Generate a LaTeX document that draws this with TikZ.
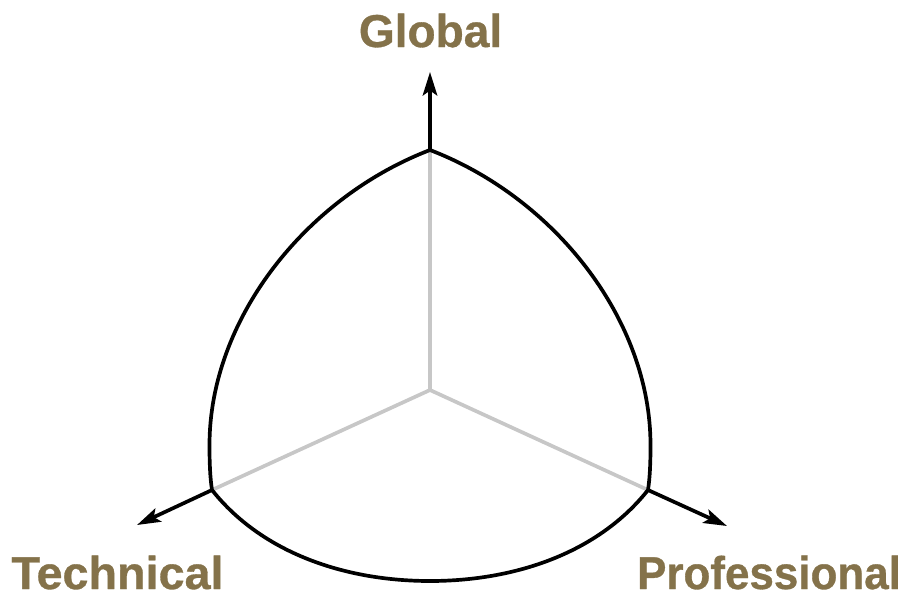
\documentclass[tikz,border=0pt]{standalone}
\usepackage{fontspec}
\setmainfont{Liberation Sans}[BoldFeatures={FakeBold=0.7}]
\usetikzlibrary{arrows.meta}
\definecolor{axisbrown}{HTML}{84724A}
\tikzset{
  axislabel/.style={font=\fontsize{26.2pt}{28pt}\selectfont\bfseries, text=axisbrown, inner sep=0pt, transform shape},
  axisline/.style={black, line width=2.1pt, -{Stealth[length=0.47cm, width=0.29cm, inset=0.1cm]}},
  innerline/.style={black!22, line width=2.1pt},
  shell/.style={black, line width=2.1pt}
}
\begin{document}
\begin{tikzpicture}[x=0.02cm, y=-0.02cm]
  \useasboundingbox (0,0) rectangle (916,592);
  \coordinate (center) at (430,390);
  \coordinate (top) at (430,150);
  \coordinate (left) at (212,490);
  \coordinate (right) at (648,490);
  \coordinate (topend) at (430,72);
  \coordinate (leftend) at (137,525);
  \coordinate (rightend) at (727,526);
  % grey axes inside
  \draw[innerline] (center) -- (top);
  \draw[innerline] (center) -- (left);
  \draw[innerline] (center) -- (right);
  % outer shell
  \draw[shell] (top) .. controls (555,198) and (650.5,320) .. (650.5,445) .. controls (650.5,462) and (650,477) .. (right);
  \draw[shell] (top) .. controls (305,198) and (209.5,320) .. (209.5,445) .. controls (209.5,462) and (210,477) .. (left);
  \draw[shell] (left) .. controls (262,553) and (345,581) .. (430,581) .. controls (515,581) and (598,553) .. (right);
  % axes outside
  \draw[axisline] (top) -- (topend);
  \draw[axisline] (left) -- (leftend);
  \draw[axisline] (right) -- (rightend);
  \node[axislabel, anchor=base] (global) at (430.5,47) {Global};
  \node[axislabel, anchor=base, xscale=1.015] (technical) at (117.5,589) {Technical};
  \node[axislabel, anchor=base, xscale=0.955] (professional) at (769,589) {Professional};
\end{tikzpicture}
\end{document}
